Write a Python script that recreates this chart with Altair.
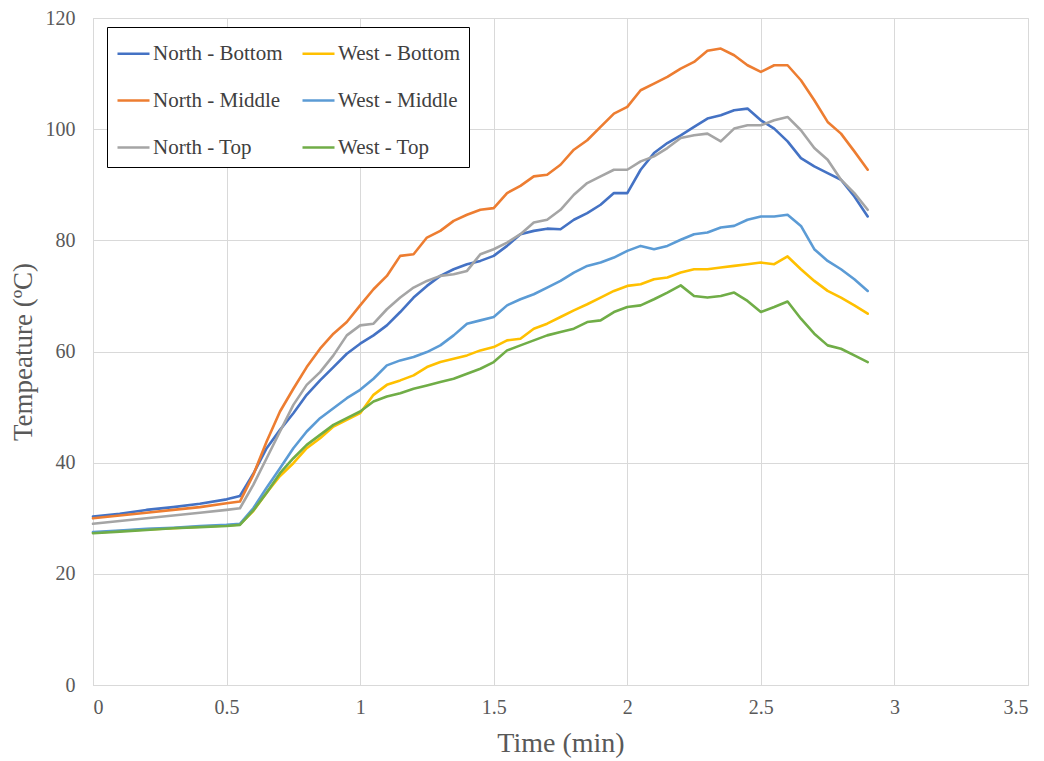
import altair as alt
import pandas as pd

times = [0, 0.1, 0.2, 0.3, 0.4, 0.5,
         0.55, 0.6, 0.65, 0.7, 0.75, 0.8, 0.85, 0.9, 0.95, 1.0,
         1.05, 1.1, 1.15, 1.2, 1.25, 1.3, 1.35, 1.4, 1.45, 1.5,
         1.55, 1.6, 1.65, 1.7, 1.75, 1.8, 1.85, 1.9, 1.95, 2.0,
         2.05, 2.1, 2.15, 2.2, 2.25, 2.3, 2.35, 2.4, 2.45, 2.5,
         2.55, 2.6, 2.65, 2.7, 2.75, 2.8, 2.85, 2.9]

north_bottom = [30.3, 30.8, 31.5, 32.0, 32.6, 33.4,
                34.0, 38.0, 42.6, 45.9, 48.9, 52.2, 54.8, 57.2, 59.6, 61.4,
                62.9, 64.7, 67.1, 69.7, 71.8, 73.6, 74.8, 75.7, 76.3, 77.2,
                79.0, 81.1, 81.7, 82.1, 82.0, 83.7, 84.9, 86.4, 88.5, 88.5,
                92.7, 95.7, 97.5, 98.9, 100.4, 101.9, 102.5, 103.4, 103.7, 101.6,
                100.1, 97.8, 94.8, 93.3, 92.1, 90.9, 87.9, 84.3]

north_middle = [30.0, 30.5, 31.0, 31.5, 32.0, 32.7,
                33.0, 37.8, 43.8, 49.2, 53.3, 57.2, 60.5, 63.2, 65.3, 68.3,
                71.2, 73.6, 77.2, 77.5, 80.5, 81.7, 83.5, 84.6, 85.5, 85.8,
                88.5, 89.8, 91.5, 91.8, 93.6, 96.3, 98.0, 100.4, 102.8, 104.0,
                107.0, 108.2, 109.4, 110.9, 112.1, 114.1, 114.5, 113.3, 111.5, 110.3,
                111.5, 111.5, 108.8, 105.2, 101.3, 99.2, 96.0, 92.7]

north_top = [29.0, 29.5, 30.0, 30.5, 31.0, 31.5,
             31.8, 36.0, 40.8, 45.6, 50.4, 54.0, 56.3, 59.3, 62.9, 64.7,
             65.0, 67.6, 69.7, 71.5, 72.7, 73.6, 73.9, 74.5, 77.5, 78.4,
             79.6, 81.1, 83.2, 83.7, 85.5, 88.2, 90.3, 91.5, 92.7, 92.7,
             94.2, 95.1, 96.6, 98.4, 98.9, 99.2, 97.8, 100.1, 100.7, 100.7,
             101.6, 102.2, 99.8, 96.6, 94.5, 90.9, 88.5, 85.5]

west_bottom = [27.4, 27.7, 28.0, 28.2, 28.5, 28.7,
               28.9, 31.3, 34.6, 37.6, 39.9, 42.6, 44.4, 46.5, 47.7, 48.9,
               52.2, 54.0, 54.8, 55.7, 57.2, 58.1, 58.7, 59.3, 60.2, 60.8,
               62.0, 62.3, 64.1, 65.0, 66.2, 67.4, 68.5, 69.7, 70.9, 71.8,
               72.1, 73.0, 73.3, 74.2, 74.8, 74.8, 75.1, 75.4, 75.7, 76.0,
               75.7, 77.1, 74.8, 72.7, 70.9, 69.7, 68.3, 66.8]

west_middle = [27.5, 27.8, 28.1, 28.3, 28.6, 28.8,
               29.0, 31.8, 35.5, 39.0, 42.6, 45.6, 48.0, 49.8, 51.6, 53.1,
               55.1, 57.5, 58.4, 59.0, 59.9, 61.1, 62.9, 65.0, 65.6, 66.2,
               68.3, 69.4, 70.3, 71.5, 72.7, 74.2, 75.4, 76.0, 76.9, 78.1,
               79.0, 78.4, 79.0, 80.1, 81.1, 81.4, 82.3, 82.6, 83.7, 84.3,
               84.3, 84.6, 82.6, 78.4, 76.3, 74.8, 73.0, 70.9]

west_top = [27.3, 27.6, 27.9, 28.2, 28.4, 28.6,
            28.8, 31.4, 34.6, 38.1, 40.8, 43.2, 45.0, 46.8, 48.0, 49.2,
            51.0, 51.9, 52.5, 53.3, 53.9, 54.5, 55.1, 56.0, 56.9, 58.1,
            60.2, 61.1, 62.0, 62.9, 63.5, 64.1, 65.3, 65.6, 67.1, 68.0,
            68.3, 69.4, 70.6, 71.9, 70.0, 69.7, 70.0, 70.6, 69.1, 67.1,
            68.0, 69.0, 65.9, 63.2, 61.1, 60.5, 59.3, 58.1]

# legend fills column by column: North in column 1, West in column 2
series_names = ["North - Bottom", "North - Middle", "North - Top",
                "West - Bottom", "West - Middle", "West - Top"]
series_values = [north_bottom, north_middle, north_top,
                 west_bottom, west_middle, west_top]
series_colors = ["#4472C4", "#ED7D31", "#A5A5A5", "#FFC000", "#5B9BD5", "#70AD47"]

rows = []
for name, vals in zip(series_names, series_values):
    for i, (t, v) in enumerate(zip(times, vals)):
        rows.append({"Time": t, "Temp": v, "Series": name, "idx": i})
df = pd.DataFrame(rows)

FONT = "Liberation Serif"
GRID = "#d9d9d9"
TXT = "#595959"

chart = alt.Chart(df).mark_line(strokeWidth=2.6, strokeJoin="round", strokeCap="round").encode(
    x=alt.X("Time:Q",
            scale=alt.Scale(domain=[0, 3.5], nice=False, zero=False),
            axis=alt.Axis(title="Time (min)", values=[0, 0.5, 1, 1.5, 2, 2.5, 3, 3.5],
                          format="~g", grid=True, gridColor=GRID, domainColor=GRID,
                          ticks=False, labelPadding=12, labelFontSize=20,
                          labelColor=TXT, labelFont=FONT,
                          titleFont=FONT, titleFontSize=28, titleFontWeight="normal",
                          titleColor=TXT, titlePadding=12)),
    y=alt.Y("Temp:Q",
            scale=alt.Scale(domain=[0, 120], nice=False),
            axis=alt.Axis(title="Tempeature (ºC)", values=[0, 20, 40, 60, 80, 100, 120],
                          grid=True, gridColor=GRID, domainColor=GRID,
                          ticks=False, labelPadding=18, labelFontSize=20,
                          labelColor=TXT, labelFont=FONT,
                          titleFont=FONT, titleFontSize=27, titleFontWeight="normal",
                          titleColor=TXT, titlePadding=8)),
    color=alt.Color("Series:N",
                    scale=alt.Scale(domain=series_names, range=series_colors),
                    legend=alt.Legend(title=None, orient="none", legendX=14, legendY=9,
                                      columns=2, symbolType="stroke", symbolSize=1024,
                                      symbolStrokeWidth=2.6, labelFont=FONT,
                                      labelFontSize=21, labelColor="#404040",
                                      labelOffset=2, rowPadding=19, columnPadding=14,
                                      padding=9, strokeColor="#000000",
                                      fillColor="#ffffff")),
    order="idx:Q",
).properties(
    width=935, height=667,
    autosize=alt.AutoSizeParams(type="none"),
    padding={"left": 85, "top": 10, "right": 8, "bottom": 76},
).configure_view(stroke=None).configure(background="#ffffff")

chart.save("out.html", embed_options={"renderer": "svg", "actions": False})
